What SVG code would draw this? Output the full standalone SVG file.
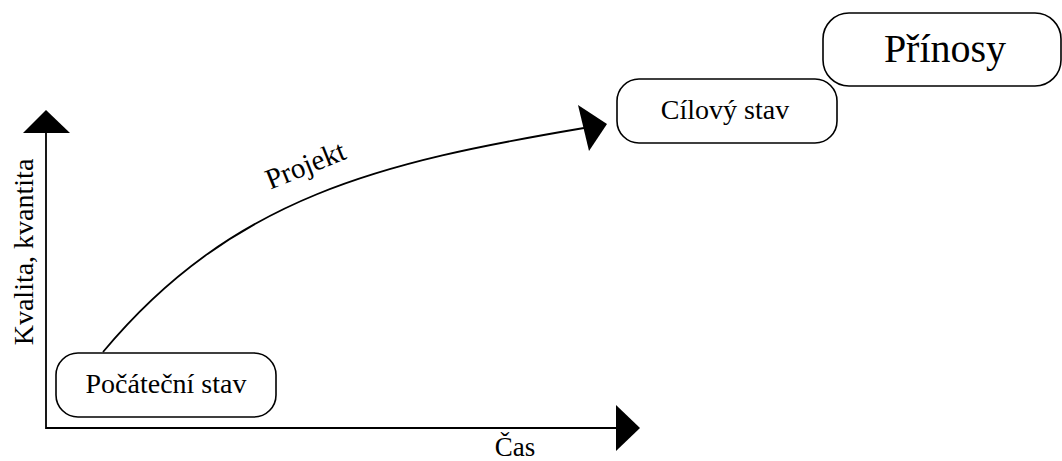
<svg xmlns="http://www.w3.org/2000/svg" width="1062" height="461" viewBox="0 0 1062 461" font-family="'Liberation Serif', 'DejaVu Serif', serif">
<style>
.box{fill:#fff;stroke:#000;stroke-width:1.6}
.ln{fill:none;stroke:#000;stroke-width:1.8}
.hd{fill:#000;stroke:none}
.t{font-family:'Liberation Serif','DejaVu Serif',serif;fill:#000}
</style>
<rect width="1062" height="461" fill="#fff"/>
<g id="connectors">
<path class="ln" d="M46,133 V428 H616"/>
<polygon class="hd" points="46,110 70,133 23,133"/>
<polygon class="hd" points="640,428 616,405 616,451"/>
<path class="ln" d="M103,352 C233,196 383,162 584,128"/>
<polygon class="hd" points="607,124 578,105 589,151"/>
<text class="t" x="309" y="174" font-size="29" text-anchor="middle" transform="rotate(-22 309 174)">Projekt</text>
<text class="t" x="515" y="456" font-size="27" text-anchor="middle">Čas</text>
<text class="t" x="33" y="252" font-size="28" text-anchor="middle" transform="rotate(-90 33 252)">Kvalita, kvantita</text>
</g>
<g id="node-pocatecni">
<rect class="box" x="56" y="353" width="220" height="64" rx="22"/>
<text class="t" x="166" y="393" font-size="28" text-anchor="middle">Počáteční stav</text>
</g>
<g id="node-cilovy">
<rect class="box" x="617" y="79" width="220" height="64" rx="22"/>
<text class="t" x="725" y="119" font-size="28" text-anchor="middle">Cílový stav</text>
</g>
<g id="node-prinosy">
<rect class="box" x="823" y="13" width="238" height="73" rx="26"/>
<text class="t" x="945" y="62" font-size="40" text-anchor="middle">Přínosy</text>
</g>
</svg>
